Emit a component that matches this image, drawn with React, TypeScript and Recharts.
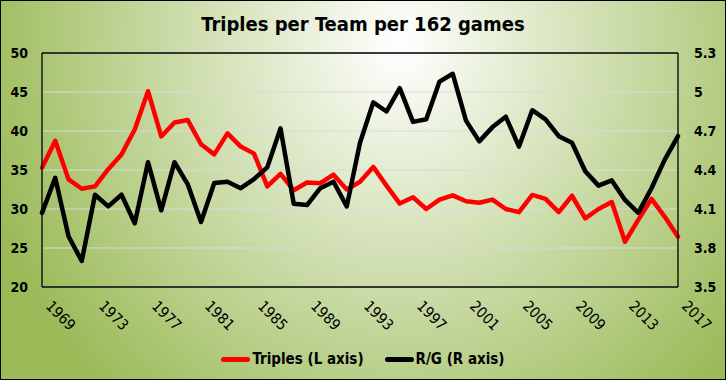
import React from 'react';
import {
  ComposedChart,
  Line,
  XAxis,
  YAxis,
  CartesianGrid,
  Legend,
  ReferenceLine,
} from 'recharts';

const years = [
  '1969', '1970', '1971', '1972', '1973', '1974', '1975', '1976', '1977', '1978',
  '1979', '1980', '1981', '1982', '1983', '1984', '1985', '1986', '1987', '1988',
  '1989', '1990', '1991', '1992', '1993', '1994', '1995', '1996', '1997', '1998',
  '1999', '2000', '2001', '2002', '2003', '2004', '2005', '2006', '2007', '2008',
  '2009', '2010', '2011', '2012', '2013', '2014', '2015', '2016', '2017',
];

const triples = [
  35.3, 38.75, 33.8, 32.6, 32.9, 35.1, 37.0, 40.2, 45.1, 39.3,
  41.1, 41.4, 38.3, 37.0, 39.7, 38.0, 37.1, 32.9, 34.5, 32.4,
  33.4, 33.3, 34.4, 32.5, 33.5, 35.4, 33.0, 30.7, 31.5, 30.0,
  31.2, 31.75, 31.0, 30.8, 31.2, 30.0, 29.6, 31.8, 31.3, 29.6,
  31.7, 28.8, 30.0, 30.9, 25.8, 28.6, 31.3, 29.0, 26.45,
];

const runsPerGame = [
  4.07, 4.34, 3.89, 3.70, 4.21, 4.12, 4.21, 3.99, 4.46, 4.09,
  4.46, 4.29, 4.00, 4.30, 4.31, 4.26, 4.33, 4.42, 4.72, 4.14,
  4.13, 4.26, 4.31, 4.12, 4.61, 4.92, 4.85, 5.03, 4.77, 4.79,
  5.08, 5.14, 4.78, 4.62, 4.73, 4.81, 4.58, 4.86, 4.79, 4.66,
  4.61, 4.39, 4.28, 4.32, 4.17, 4.07, 4.26, 4.48, 4.66,
];

const leftTicks = [20, 25, 30, 35, 40, 45, 50];
const rightTicks = [3.5, 3.8, 4.1, 4.4, 4.7, 5, 5.3];

const seriesInfo = [
  { key: 'triples', name: 'Triples (L axis)', color: '#FF0000', axis: 'left' },
  { key: 'rpg', name: 'R/G (R axis)', color: '#000000', axis: 'right' },
];

const data = years.map((year, i) => ({
  year,
  triples: triples[i],
  rpg: runsPerGame[i],
}));

const FONT = "'DejaVu Sans Condensed', 'DejaVu Sans', sans-serif";

const XTick = (props: any) => {
  const { x, y, payload } = props;
  const px = x + 3;
  const py = y + 20;
  return (
    <text
      x={px}
      y={py}
      transform={`rotate(45 ${px} ${py})`}
      textAnchor="start"
      fontSize={15}
      fontFamily={FONT}
      fill="#000"
    >
      {payload.value}
    </text>
  );
};

const LegendContent = () => (
  <div
    style={{
      height: 42,
      display: 'flex',
      alignItems: 'center',
      justifyContent: 'center',
      fontFamily: FONT,
      fontWeight: 'bold',
      fontSize: 15,
      color: '#000',
    }}
  >
    {seriesInfo.map((s, i) => (
      <div
        key={s.key}
        style={{ display: 'flex', alignItems: 'center', marginLeft: i === 0 ? 0 : 21 }}
      >
        <div
          style={{
            width: 29,
            height: 5,
            background: s.color,
            borderRadius: 2.5,
            marginRight: 2,
          }}
        />
        <span>{s.name}</span>
      </div>
    ))}
  </div>
);

export default function App() {
  return (
    <div
      style={{
        position: 'relative',
        width: 726,
        height: 380,
        background:
          'radial-gradient(430px 470px at 400px 45px, #ffffff 0%, #9BBB59 100%)',
      }}
    >
      <style>{`body{margin:0}`}</style>
      <div
        style={{
          position: 'absolute',
          top: 12,
          left: 0,
          width: 726,
          textAlign: 'center',
          fontFamily: FONT,
          fontWeight: 'bold',
          fontSize: 20,
          color: '#000',
          zIndex: 2,
        }}
      >
        Triples per Team per 162 games
      </div>
      <ComposedChart
        width={726}
        height={380}
        data={data}
        margin={{ top: 53, right: 0, left: 0, bottom: 0 }}
      >
        <CartesianGrid
          yAxisId="left"
          xAxisId="main"
          horizontal
          vertical={false}
          stroke="#D9D9D9"
          strokeWidth={1.2}
        />
        <XAxis
          xAxisId="main"
          dataKey="year"
          interval={3}
          height={51}
          tickSize={0}
          tickMargin={0}
          tickLine={false}
          axisLine={{ stroke: '#000', strokeWidth: 1.3 }}
          tick={<XTick />}
        />
        <YAxis
          yAxisId="left"
          orientation="left"
          width={42}
          domain={[20, 50]}
          ticks={leftTicks}
          tickSize={0}
          tickMargin={14}
          tickLine={false}
          axisLine={{ stroke: '#000', strokeWidth: 1.3 }}
          tick={{ fontSize: 14, fontWeight: 'bold', fontFamily: FONT, fill: '#000' }}
        />
        <YAxis
          yAxisId="right"
          orientation="right"
          width={48}
          domain={[3.5, 5.3]}
          ticks={rightTicks}
          tickSize={0}
          tickMargin={16}
          tickLine={false}
          axisLine={{ stroke: '#000', strokeWidth: 1.3 }}
          tick={{ fontSize: 14, fontWeight: 'bold', fontFamily: FONT, fill: '#000' }}
        />
        <ReferenceLine
          yAxisId="left"
          xAxisId="main"
          y={50}
          stroke="#000"
          strokeWidth={1.3}
        />
        <Legend verticalAlign="bottom" content={<LegendContent />} />
        {seriesInfo.map((s) => (
          <Line
            key={s.key}
            xAxisId="main"
            yAxisId={s.axis}
            type="linear"
            dataKey={s.key}
            name={s.name}
            stroke={s.color}
            strokeWidth={4.5}
            strokeLinejoin="round"
            strokeLinecap="round"
            dot={false}
            activeDot={false}
            isAnimationActive={false}
          />
        ))}
      </ComposedChart>
      <div
        style={{
          position: 'absolute',
          inset: 0,
          border: '1px solid #000',
          pointerEvents: 'none',
        }}
      />
    </div>
  );
}
